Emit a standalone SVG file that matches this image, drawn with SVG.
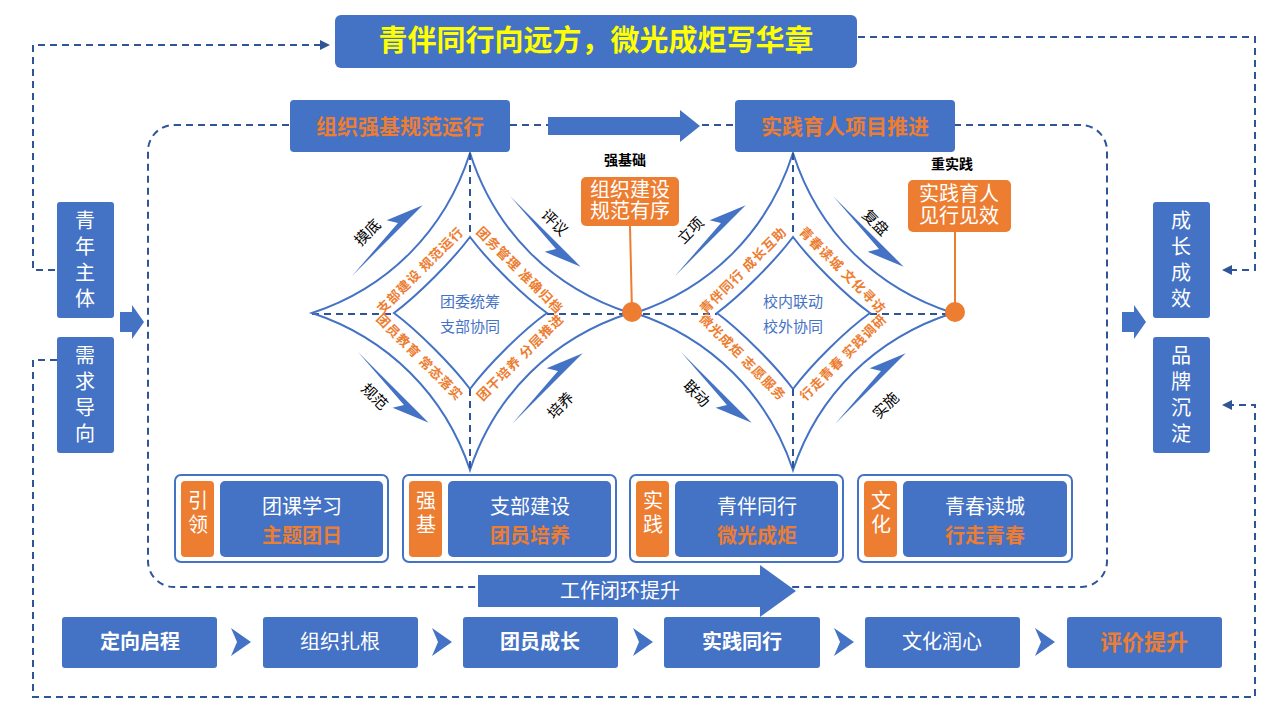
<svg xmlns="http://www.w3.org/2000/svg" width="1280" height="720" viewBox="0 0 1280 720">
<style>
text{font-family:"Noto Sans CJK SC","Noto Sans",sans-serif;}
.bx{fill:#4472C4;}
.or{fill:#ED7D31;}
.dash{fill:none;stroke:#2F5597;stroke-width:2;stroke-dasharray:7 5;}
.star{fill:none;stroke:#4472C4;stroke-width:2;}
.wt{fill:#fff;font-size:20px;text-anchor:middle;}
.ot{fill:#ED7D31;font-size:13px;font-weight:bold;text-anchor:middle;letter-spacing:1px;}
.bt{fill:#4472C4;font-size:15px;text-anchor:middle;}
.kt{fill:#000;font-size:15px;text-anchor:middle;}
.card{fill:#fff;stroke:#4472C4;stroke-width:2;}
</style>
<defs>
<marker id="ah" markerWidth="10" markerHeight="10" refX="8" refY="5" orient="auto" markerUnits="userSpaceOnUse"><path d="M0,0 L10,5 L0,10 Z" fill="#2F5597"/></marker>
<polygon id="sarr" points="0,0 70,-5 64,-15 100,0 0,0" fill="#4472C4"/>
<g id="star">
<path class="star" d="M0,-160 C25,-82 82,-25 160,0 C82,25 25,82 0,157 C-25,82 -82,25 -158,0 C-82,-25 -25,-82 0,-160 Z"/>
<path class="star" d="M0,-76 C18,-52 52,-18 77,0 C52,18 18,52 0,76 C-18,52 -52,18 -76,0 C-52,-18 -18,-52 0,-76 Z"/>
<line class="dash" x1="0" y1="-160" x2="0" y2="-76"/>
<line class="dash" x1="0" y1="76" x2="0" y2="157"/>
</g>
</defs>
<rect width="1280" height="720" fill="#fff"/>

<g id="connectors">
<path class="dash" d="M55,270 H33 V45 H328" marker-end="url(#ah)"/>
<path class="dash" d="M858,37 H1255 V270 H1224" marker-end="url(#ah)"/>
<path class="dash" d="M57,360 H33 V697 H1255 V405 H1224" marker-end="url(#ah)"/>
<rect class="dash" x="148" y="125" width="959" height="462" rx="26"/>
<line class="dash" x1="312" y1="314" x2="394" y2="314"/>
<line class="dash" x1="547" y1="314" x2="717" y2="314"/>
<line class="dash" x1="870" y1="314" x2="955" y2="314"/>
<polygon points="548,117 680,117 680,110 700,126 680,142 680,135 548,135" class="bx"/>
<polygon points="120,312 132,312 132,305 144,322 132,339 132,332 120,332" class="bx"/>
<polygon points="1122,312 1134,312 1134,305 1146,322 1134,339 1134,332 1122,332" class="bx"/>
<line x1="630" y1="226" x2="632" y2="312" stroke="#ED7D31" stroke-width="2"/>
<line x1="955" y1="232" x2="955" y2="312" stroke="#ED7D31" stroke-width="2"/>
</g>

<g id="title"><rect class="bx" x="335" y="15" width="522" height="53" rx="6"/>
<text x="596" y="51" font-size="29" font-weight="bold" fill="#FFFF00" text-anchor="middle">青伴同行向远方，微光成炬写华章</text></g>

<g id="h1"><rect class="bx" x="290" y="100" width="220" height="52" rx="4"/><text x="400" y="134" font-size="21" fill="#ED7D31" text-anchor="middle" font-weight="bold">组织强基规范运行</text></g>
<g id="h2"><rect class="bx" x="735" y="100" width="220" height="52" rx="4"/><text x="845" y="134" font-size="21" fill="#ED7D31" text-anchor="middle" font-weight="bold">实践育人项目推进</text></g>

<g id="side1"><rect class="bx" x="57" y="202" width="57" height="116" rx="3"/><text class="wt" font-size="17" x="85" y="228">青</text><text class="wt" font-size="17" x="85" y="254">年</text><text class="wt" font-size="17" x="85" y="280">主</text><text class="wt" font-size="17" x="85" y="306">体</text></g>
<g id="side2"><rect class="bx" x="57" y="337" width="57" height="116" rx="3"/><text class="wt" font-size="17" x="85" y="363">需</text><text class="wt" font-size="17" x="85" y="389">求</text><text class="wt" font-size="17" x="85" y="415">导</text><text class="wt" font-size="17" x="85" y="441">向</text></g>
<g id="side3"><rect class="bx" x="1153" y="202" width="57" height="116" rx="3"/><text class="wt" font-size="17" x="1181" y="228">成</text><text class="wt" font-size="17" x="1181" y="254">长</text><text class="wt" font-size="17" x="1181" y="280">成</text><text class="wt" font-size="17" x="1181" y="306">效</text></g>
<g id="side4"><rect class="bx" x="1153" y="337" width="57" height="116" rx="3"/><text class="wt" font-size="17" x="1181" y="363">品</text><text class="wt" font-size="17" x="1181" y="389">牌</text><text class="wt" font-size="17" x="1181" y="415">沉</text><text class="wt" font-size="17" x="1181" y="441">淀</text></g>

<g id="diamond1">
<use href="#star" transform="translate(470,313)"/>
<text class="bt" x="470" y="307">团委统筹</text><text class="bt" x="470" y="332">支部协同</text>
<text class="ot" transform="translate(420,270) rotate(-45)" y="5">支部建设 规范运行</text>
<text class="ot" transform="translate(520,270) rotate(45)" y="5">团务管理 准确归档</text>
<text class="ot" transform="translate(420,357) rotate(45)" y="5">团员教育 常态落实</text>
<text class="ot" transform="translate(520,357) rotate(-45)" y="5">团干培养 分层推进</text>
<use href="#sarr" transform="translate(352,276) rotate(-45)"/>
<use href="#sarr" transform="translate(510,196) rotate(45) scale(1,-1)"/>
<use href="#sarr" transform="translate(358,352) rotate(45) scale(1,-1)"/>
<use href="#sarr" transform="translate(512,424) rotate(-45)"/>
<text class="kt" transform="translate(367,232) rotate(-45)" y="6">摸底</text>
<text class="kt" transform="translate(555,222) rotate(45)" y="6">评议</text>
<text class="kt" transform="translate(375,396) rotate(45)" y="6">规范</text>
<text class="kt" transform="translate(560,405) rotate(-45)" y="6">培养</text>
</g>

<g id="diamond2">
<use href="#star" transform="translate(793,313)"/>
<text class="bt" x="793" y="307">校内联动</text><text class="bt" x="793" y="332">校外协同</text>
<text class="ot" transform="translate(743,270) rotate(-45)" y="5">青伴同行 成长互助</text>
<text class="ot" transform="translate(843,270) rotate(45)" y="5">青春读城 文化寻访</text>
<text class="ot" transform="translate(743,357) rotate(45)" y="5">微光成炬 志愿服务</text>
<text class="ot" transform="translate(843,357) rotate(-45)" y="5">行走青春 实践调研</text>
<use href="#sarr" transform="translate(675,276) rotate(-45)"/>
<use href="#sarr" transform="translate(833,196) rotate(45) scale(1,-1)"/>
<use href="#sarr" transform="translate(681,352) rotate(45) scale(1,-1)"/>
<use href="#sarr" transform="translate(835,424) rotate(-45)"/>
<text class="kt" transform="translate(690,230) rotate(-45)" y="6">立项</text>
<text class="kt" transform="translate(876,222) rotate(45)" y="6">复盘</text>
<text class="kt" transform="translate(697,393) rotate(45)" y="6">联动</text>
<text class="kt" transform="translate(885,405) rotate(-45)" y="6">实施</text>
</g>

<g id="callout1"><text x="625" y="165" font-size="14" font-weight="bold" text-anchor="middle" fill="#000">强基础</text>
<rect class="or" x="581" y="177" width="98" height="49" rx="5"/>
<text class="wt" font-size="14" x="630" y="197">组织建设</text><text class="wt" font-size="14" x="630" y="218">规范有序</text>
<circle cx="632" cy="312" r="10" class="or"/></g>
<g id="callout2"><text x="952" y="169" font-size="14" font-weight="bold" text-anchor="middle" fill="#000">重实践</text>
<rect class="or" x="908" y="180" width="103" height="52" rx="5"/>
<text class="wt" font-size="14" x="959" y="201">实践育人</text><text class="wt" font-size="14" x="959" y="223">见行见效</text>
<circle cx="955" cy="312" r="10" class="or"/></g>

<g id="card1"><rect class="card" x="175" y="475" width="213" height="87" rx="6"/><rect class="or" x="181" y="481" width="33" height="76" rx="4"/><rect class="bx" x="220" y="481" width="163" height="76" rx="5"/>
<text class="wt" font-size="15" x="198" y="508">引</text><text class="wt" font-size="15" x="198" y="532">领</text>
<text class="wt" x="302" y="514">团课学习</text><text x="302" y="543" font-size="20" fill="#ED7D31" text-anchor="middle" font-weight="bold">主题团日</text></g>
<g id="card2"><rect class="card" x="403" y="475" width="213" height="87" rx="6"/><rect class="or" x="409" y="481" width="33" height="76" rx="4"/><rect class="bx" x="448" y="481" width="163" height="76" rx="5"/>
<text class="wt" font-size="15" x="426" y="508">强</text><text class="wt" font-size="15" x="426" y="532">基</text>
<text class="wt" x="530" y="514">支部建设</text><text x="530" y="543" font-size="20" fill="#ED7D31" text-anchor="middle" font-weight="bold">团员培养</text></g>
<g id="card3"><rect class="card" x="630" y="475" width="213" height="87" rx="6"/><rect class="or" x="636" y="481" width="33" height="76" rx="4"/><rect class="bx" x="675" y="481" width="163" height="76" rx="5"/>
<text class="wt" font-size="15" x="653" y="508">实</text><text class="wt" font-size="15" x="653" y="532">践</text>
<text class="wt" x="757" y="514">青伴同行</text><text x="757" y="543" font-size="20" fill="#ED7D31" text-anchor="middle" font-weight="bold">微光成炬</text></g>
<g id="card4"><rect class="card" x="858" y="475" width="214" height="87" rx="6"/><rect class="or" x="864" y="481" width="33" height="76" rx="4"/><rect class="bx" x="903" y="481" width="164" height="76" rx="5"/>
<text class="wt" font-size="15" x="881" y="508">文</text><text class="wt" font-size="15" x="881" y="532">化</text>
<text class="wt" x="985" y="514">青春读城</text><text x="985" y="543" font-size="20" fill="#ED7D31" text-anchor="middle" font-weight="bold">行走青春</text></g>

<g id="loop"><polygon class="bx" points="478,575 760,575 760,565 796,591 760,617 760,607 478,607"/><text class="wt" x="620" y="598" font-size="19">工作闭环提升</text></g>

<g id="flow">
<rect class="bx" x="62" y="617" width="155" height="51" rx="3"/><text class="wt" x="140" y="649" font-weight="bold">定向启程</text>
<rect class="bx" x="263" y="617" width="155" height="51" rx="3"/><text class="wt" x="340" y="649">组织扎根</text>
<rect class="bx" x="463" y="617" width="155" height="51" rx="3"/><text class="wt" x="540" y="649" font-weight="bold">团员成长</text>
<rect class="bx" x="664" y="617" width="156" height="51" rx="3"/><text class="wt" x="742" y="649" font-weight="bold">实践同行</text>
<rect class="bx" x="865" y="617" width="155" height="51" rx="3"/><text class="wt" x="942" y="649">文化润心</text>
<rect class="bx" x="1067" y="617" width="155" height="51" rx="3"/><text x="1144" y="650" font-size="22" fill="#ED7D31" text-anchor="middle" font-weight="bold">评价提升</text>
<polygon class="bx" points="231,628 251,642 231,656 237,642"/>
<polygon class="bx" points="432,628 452,642 432,656 438,642"/>
<polygon class="bx" points="633,628 653,642 633,656 639,642"/>
<polygon class="bx" points="834,628 854,642 834,656 840,642"/>
<polygon class="bx" points="1035,628 1055,642 1035,656 1041,642"/>
</g>
</svg>
